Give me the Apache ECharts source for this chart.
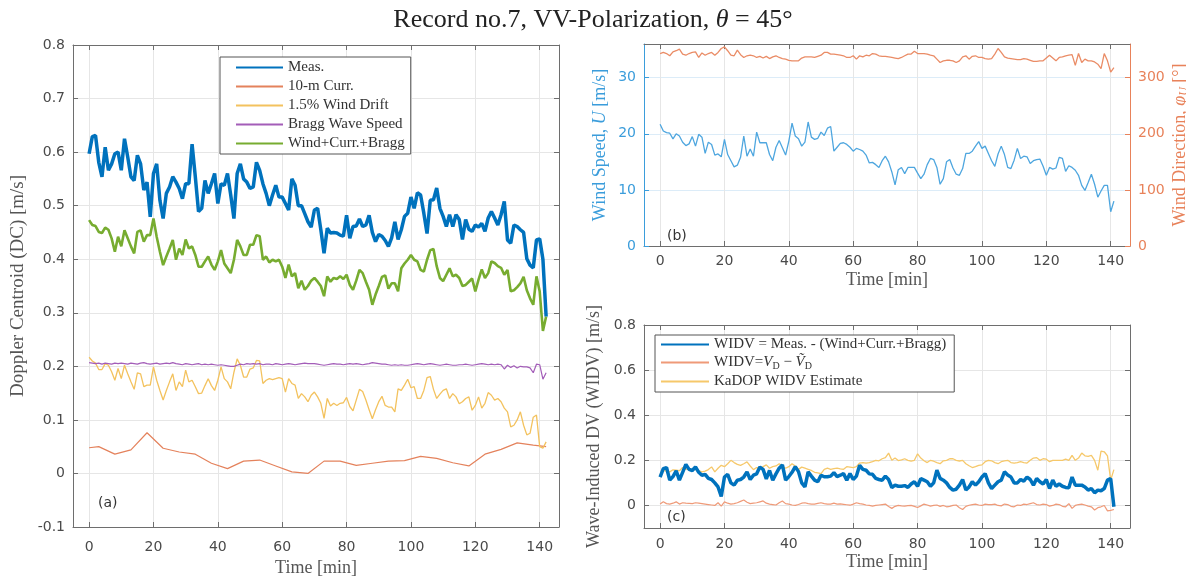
<!DOCTYPE html>
<html><head><meta charset="utf-8">
<script src="https://cdn.jsdelivr.net/npm/echarts@6/dist/echarts.min.js"></script>
<style>html,body{margin:0;padding:0;background:#fff}#c{width:1186px;height:576px}</style>
</head><body><div id="c"></div><script>
// ---------- DATA ----------
const timeMin = [0,1,2,3,4,5,6,7,8,9,10,11,12,13,14,15,16,17,18,19,20,21,22,23,24,25,26,27,28,29,30,31,32,33,34,35,36,37,38,39,40,41,42,43,44,45,46,47,48,49,50,51,52,53,54,55,56,57,58,59,60,61,62,63,64,65,66,67,68,69,70,71,72,73,74,75,76,77,78,79,80,81,82,83,84,85,86,87,88,89,90,91,92,93,94,95,96,97,98,99,100,101,102,103,104,105,106,107,108,109,110,111,112,113,114,115,116,117,118,119,120,121,122,123,124,125,126,127,128,129,130,131,132,133,134,135,136,137,138,139,140,141,142];
const xTickValues = [0,20,40,60,80,100,120,140];
const yTicksA = [-0.1,0,0.1,0.2,0.3,0.4,0.5,0.6,0.7,0.8];
const yTicksB = [0,10,20,30];
const yTicksB2 = [0,100,200,300];
const yTicksC = [0,0.2,0.4,0.6,0.8];

// (a) Doppler centroid components [m/s]
const measDC = [
0.597,0.629,0.631,0.581,0.554,0.609,0.566,0.578,0.597,0.600,
0.566,0.625,0.591,0.554,0.547,0.594,0.578,0.529,0.544,0.479,
0.560,0.578,0.510,0.476,0.523,0.535,0.554,0.544,0.532,0.513,
0.541,0.541,0.615,0.554,0.489,0.495,0.547,0.523,0.541,0.560,
0.504,0.541,0.538,0.560,0.520,0.476,0.560,0.578,0.550,0.544,
0.532,0.535,0.581,0.566,0.541,0.523,0.500,0.520,0.538,0.516,
0.516,0.504,0.492,0.550,0.538,0.500,0.500,0.485,0.470,0.460,
0.492,0.495,0.455,0.411,0.458,0.449,0.450,0.449,0.445,0.443,
0.482,0.439,0.461,0.462,0.475,0.461,0.464,0.482,0.450,0.433,
0.446,0.443,0.435,0.424,0.440,0.470,0.437,0.455,0.480,0.486,
0.516,0.495,0.524,0.520,0.486,0.448,0.510,0.511,0.533,0.495,
0.480,0.461,0.483,0.461,0.483,0.474,0.437,0.474,0.456,0.452,
0.464,0.460,0.467,0.452,0.477,0.489,0.477,0.464,0.483,0.508,
0.436,0.430,0.464,0.461,0.455,0.450,0.401,0.389,0.384,0.436,
0.438,0.400,0.293];
const windCurrBragg = [
0.473,0.464,0.462,0.451,0.449,0.459,0.455,0.439,0.414,0.442,
0.424,0.454,0.439,0.424,0.411,0.451,0.454,0.433,0.445,0.445,
0.476,0.442,0.414,0.389,0.405,0.420,0.436,0.399,0.420,0.408,
0.437,0.420,0.424,0.408,0.386,0.386,0.396,0.405,0.390,0.380,
0.396,0.417,0.392,0.383,0.374,0.399,0.436,0.424,0.408,0.408,
0.427,0.427,0.445,0.443,0.399,0.405,0.394,0.399,0.396,0.399,
0.386,0.365,0.390,0.368,0.374,0.346,0.360,0.343,0.350,0.360,
0.365,0.358,0.350,0.331,0.368,0.358,0.365,0.363,0.368,0.363,
0.371,0.352,0.343,0.360,0.380,0.374,0.358,0.343,0.315,0.334,
0.350,0.367,0.370,0.345,0.355,0.355,0.340,0.383,0.392,0.399,
0.408,0.399,0.396,0.380,0.377,0.399,0.417,0.419,0.387,0.365,
0.359,0.371,0.383,0.368,0.371,0.365,0.350,0.352,0.358,0.364,
0.340,0.362,0.381,0.365,0.374,0.396,0.393,0.387,0.384,0.371,
0.380,0.340,0.342,0.348,0.355,0.367,0.342,0.327,0.315,0.368,
0.340,0.266,0.293];
const windDrift = [
0.217,0.210,0.206,0.194,0.194,0.205,0.202,0.190,0.174,0.196,
0.177,0.202,0.186,0.171,0.157,0.188,0.186,0.162,0.165,0.165,
0.199,0.174,0.155,0.137,0.155,0.171,0.186,0.155,0.171,0.162,
0.193,0.171,0.174,0.162,0.149,0.150,0.164,0.177,0.164,0.155,
0.174,0.199,0.177,0.171,0.158,0.189,0.214,0.202,0.180,0.180,
0.195,0.197,0.211,0.210,0.168,0.174,0.177,0.175,0.177,0.179,
0.177,0.152,0.177,0.168,0.165,0.140,0.149,0.143,0.134,0.146,
0.152,0.143,0.131,0.103,0.140,0.126,0.131,0.127,0.131,0.132,
0.142,0.125,0.117,0.137,0.157,0.153,0.137,0.119,0.102,0.119,
0.134,0.144,0.127,0.124,0.124,0.115,0.158,0.155,0.165,0.176,
0.160,0.162,0.140,0.140,0.155,0.179,0.181,0.157,0.140,0.148,
0.155,0.158,0.140,0.149,0.143,0.130,0.134,0.140,0.143,0.118,
0.127,0.143,0.122,0.131,0.151,0.146,0.137,0.140,0.134,0.122,
0.115,0.087,0.090,0.100,0.115,0.090,0.072,0.075,0.105,0.109,
0.050,0.047,0.059];
const braggSpeed = [
0.207,0.206,0.205,0.206,0.204,0.206,0.205,0.204,0.206,0.205,
0.206,0.205,0.204,0.206,0.205,0.204,0.206,0.207,0.205,0.204,
0.205,0.206,0.204,0.205,0.206,0.205,0.207,0.205,0.204,0.203,
0.205,0.204,0.203,0.204,0.205,0.203,0.204,0.203,0.204,0.203,
0.202,0.203,0.202,0.201,0.200,0.200,0.202,0.204,0.203,0.205,
0.204,0.205,0.204,0.205,0.203,0.204,0.204,0.203,0.205,0.204,
0.203,0.204,0.205,0.204,0.203,0.204,0.205,0.206,0.205,0.205,
0.205,0.204,0.203,0.202,0.203,0.204,0.205,0.204,0.204,0.203,
0.204,0.205,0.204,0.205,0.204,0.203,0.204,0.205,0.207,0.206,
0.205,0.204,0.204,0.203,0.202,0.203,0.202,0.203,0.202,0.202,
0.203,0.204,0.205,0.204,0.203,0.204,0.205,0.204,0.203,0.202,
0.203,0.204,0.203,0.202,0.202,0.203,0.203,0.204,0.203,0.202,
0.203,0.204,0.205,0.204,0.203,0.204,0.203,0.204,0.203,0.195,
0.202,0.198,0.201,0.197,0.200,0.199,0.199,0.197,0.188,0.204,
0.203,0.176,0.188];
const currTime = [0,3,8,13,18,23,28,33,38,43,48,53,58,63,68,73,78,83,88,93,98,103,108,113,118,123,128,133,138,142];
const curr10m = [0.048,0.050,0.036,0.044,0.076,0.047,0.040,0.036,0.019,0.009,0.023,0.025,0.014,0.003,0.000,0.023,0.023,0.015,0.019,0.023,0.024,0.032,0.028,0.020,0.014,0.036,0.045,0.057,0.053,0.050];

// (b) wind speed [m/s] and direction [deg]
const windSpeed = [
21.7,20.5,20.2,20.1,19.1,20.0,19.6,18.5,17.9,18.2,
19.5,17.8,19.9,19.4,16.5,18.5,18.1,16.2,16.4,15.9,
19.0,16.3,15.2,14.1,14.4,15.8,19.6,16.0,17.3,16.0,
20.3,18.4,18.4,18.4,16.3,15.2,17.6,18.8,17.5,16.2,
18.7,21.9,19.6,19.1,17.8,18.5,22.1,19.4,19.0,19.2,
20.3,19.7,21.0,21.3,16.9,17.6,18.3,18.4,18.1,17.6,
16.9,17.4,17.2,16.9,16.2,14.8,14.9,14.5,14.0,15.2,
16.0,15.0,13.2,10.9,13.6,14.0,12.9,14.0,14.0,14.0,
13.0,12.0,12.8,14.5,15.6,15.4,14.0,11.0,12.0,15.0,
15.4,13.9,12.8,12.6,13.8,16.5,16.5,16.9,17.8,18.6,
17.4,17.8,16.5,15.2,14.2,16.4,17.8,16.3,14.0,13.8,
15.3,17.4,15.6,16.0,15.9,14.7,15.2,15.4,15.5,14.2,
12.6,14.0,13.7,13.9,15.8,15.6,13.3,14.3,14.0,13.5,
12.6,10.8,9.9,11.3,12.8,11.0,8.7,9.8,10.8,10.8,
6.1,8.0];
const windDir = [
343,345,343,339,346,348,351,342,340,343,
345,346,336,344,340,343,345,340,345,352,
355,348,340,339,349,341,336,339,340,339,
336,338,335,338,334,337,339,336,334,333,
331,330,330,330,335,337,337,337,336,338,
340,345,345,342,342,341,340,339,336,336,
339,333,339,337,340,339,343,342,339,338,
338,337,336,335,334,336,339,342,342,347,
343,343,343,342,340,339,333,327,330,331,
331,330,327,330,337,339,333,338,339,336,
336,334,333,334,342,352,345,337,335,334,
333,332,332,334,333,331,329,329,330,330,
335,340,335,330,336,337,339,340,341,322,
343,327,333,330,330,328,324,316,343,330,
310,318];

// (c) wave-induced Doppler velocity [m/s]
const widvMeas = [
0.126,0.163,0.168,0.112,0.128,0.153,0.112,0.147,0.182,0.160,
0.155,0.171,0.147,0.134,0.138,0.120,0.115,0.100,0.082,0.040,
0.126,0.138,0.100,0.090,0.112,0.115,0.126,0.149,0.115,0.134,
0.140,0.170,0.160,0.118,0.155,0.112,0.140,0.165,0.180,0.112,
0.128,0.147,0.172,0.150,0.100,0.082,0.149,0.130,0.112,0.105,
0.134,0.127,0.127,0.130,0.145,0.128,0.134,0.141,0.112,0.141,
0.115,0.130,0.178,0.160,0.156,0.140,0.138,0.120,0.115,0.112,
0.130,0.115,0.079,0.090,0.085,0.085,0.088,0.080,0.095,0.105,
0.085,0.119,0.112,0.105,0.085,0.100,0.156,0.120,0.112,0.100,
0.080,0.068,0.072,0.090,0.115,0.068,0.082,0.105,0.090,0.105,
0.126,0.141,0.100,0.075,0.090,0.105,0.112,0.149,0.135,0.126,
0.100,0.100,0.115,0.108,0.126,0.115,0.090,0.119,0.105,0.095,
0.115,0.075,0.112,0.085,0.095,0.085,0.080,0.078,0.126,0.090,
0.090,0.090,0.082,0.068,0.075,0.056,0.068,0.065,0.075,0.112,
0.119,-0.006];
const widvTilde = [
0.006,0.016,0.008,0.006,0.010,0.016,0.006,0.012,0.010,0.009,
0.008,0.012,0.010,0.008,0.006,0.004,0.002,0.000,0.012,-0.003,
0.016,0.010,0.006,0.008,0.012,0.018,0.024,0.014,0.008,0.010,
0.012,0.016,0.020,0.010,0.006,0.004,0.002,0.012,0.020,0.008,
0.006,0.002,0.000,0.004,0.010,0.012,0.008,0.006,0.006,0.009,
0.012,0.008,0.006,0.006,0.010,0.006,0.007,0.005,0.003,0.001,
0.006,0.012,0.008,0.006,0.002,0.000,-0.003,0.000,0.002,0.004,
0.006,-0.005,-0.013,-0.004,0.000,-0.002,-0.003,-0.001,0.000,-0.004,
-0.009,-0.002,0.006,0.002,-0.003,0.000,0.002,-0.004,0.000,-0.006,
-0.004,0.000,0.002,-0.010,-0.018,-0.004,0.001,0.004,0.006,0.002,
0.000,0.006,0.004,0.004,0.006,0.000,-0.002,0.006,0.004,-0.004,
-0.006,0.002,0.000,0.006,0.004,0.008,0.012,0.004,0.002,0.006,
0.004,-0.003,0.000,0.006,0.004,-0.004,-0.006,0.008,-0.013,0.000,
0.004,0.006,0.002,-0.003,-0.006,-0.020,-0.010,-0.006,0.000,-0.024,
-0.022,-0.018];
const kadopWidv = [
0.134,0.156,0.152,0.149,0.158,0.156,0.154,0.168,0.160,0.162,
0.159,0.159,0.155,0.149,0.152,0.159,0.171,0.149,0.165,0.178,
0.172,0.185,0.200,0.190,0.182,0.178,0.185,0.193,0.175,0.159,
0.168,0.165,0.172,0.180,0.165,0.172,0.175,0.185,0.174,0.165,
0.172,0.185,0.175,0.160,0.170,0.165,0.160,0.155,0.147,0.144,
0.141,0.160,0.165,0.160,0.163,0.165,0.162,0.160,0.172,0.170,
0.168,0.172,0.188,0.190,0.188,0.190,0.194,0.200,0.198,0.207,
0.212,0.232,0.200,0.210,0.199,0.202,0.207,0.200,0.196,0.200,
0.229,0.210,0.198,0.190,0.200,0.196,0.190,0.185,0.198,0.200,
0.207,0.207,0.200,0.197,0.200,0.185,0.176,0.168,0.172,0.178,
0.180,0.194,0.200,0.198,0.190,0.185,0.194,0.198,0.200,0.190,
0.188,0.190,0.194,0.190,0.188,0.200,0.210,0.212,0.200,0.207,
0.205,0.194,0.200,0.200,0.200,0.200,0.205,0.200,0.222,0.200,
0.210,0.232,0.220,0.218,0.222,0.200,0.156,0.241,0.238,0.220,
0.112,0.159];

const legendA = ['Meas.', '10-m Curr.', '1.5% Wind Drift', 'Bragg Wave Speed', 'Wind+Curr.+Bragg'];
const legendC = ['WIDV = Meas. - (Wind+Curr.+Bragg)', 'WIDV=V_D \u2212 V~_D', 'KaDOP WIDV Estimate'];

// ---------- CHART ----------
const SERIF = '"Liberation Serif", "DejaVu Serif", serif';
const SANS = '"DejaVu Sans", "Open Sans", sans-serif';
const AXC = '#6e6e6e';
const pair = (t, v) => v.map((y, i) => [t[i], y]);

function xAxisDef(gi, pos, nameGap, margin) {
  const bottom = pos === 'bottom';
  return {
    type: 'value', gridIndex: gi, position: pos, min: -5, max: 146,
    name: bottom ? 'Time [min]' : '', nameLocation: 'middle', nameGap: nameGap,
    nameTextStyle: {fontFamily: SERIF, fontSize: 18, color: '#555'},
    axisLine: {show: true, onZero: false, lineStyle: {color: AXC, width: 1}},
    axisTick: {show: true, inside: true, length: 5, customValues: xTickValues, lineStyle: {color: AXC}},
    axisLabel: {show: bottom, customValues: xTickValues, fontFamily: SANS, fontSize: 14, color: '#4a4a4a', margin: margin || 8},
    splitLine: {show: bottom, lineStyle: {color: '#e6e6e6', width: 1}}
  };
}
function yAxisDef(gi, pos, min, max, ticks, opts) {
  const o = opts || {};
  const col = o.color || AXC;
  return {
    type: 'value', gridIndex: gi, position: pos, min: min, max: max,
    name: o.name || '', nameLocation: 'middle', nameGap: o.nameGap || 40,
    nameTextStyle: {fontFamily: SERIF, fontSize: o.nameSize || 18, color: o.nameColor || '#555', rich: o.rich},
    axisLine: {show: true, onZero: false, lineStyle: {color: col, width: 1}},
    axisTick: {show: true, inside: true, length: 5, customValues: ticks, lineStyle: {color: col}},
    axisLabel: {show: !!o.labels, customValues: ticks, fontFamily: SANS, fontSize: 14, color: o.labelColor || '#4a4a4a', margin: 8},
    splitLine: {show: !!o.split, lineStyle: {color: o.splitColor || '#e6e6e6', width: 1}}
  };
}

const chart = echarts.init(document.getElementById('c'), null, {renderer: 'canvas'});
const option = {
  animation: false,
  backgroundColor: '#fff',
  title: {
    text: 'Record no.7, VV-Polarization, {i|\u03b8} = 45\u00b0', left: 'center', top: 2,
    textStyle: {fontFamily: SERIF, fontSize: 26, fontWeight: 'normal', color: '#222',
      rich: {i: {fontFamily: SERIF, fontStyle: 'italic', fontSize: 26, color: '#222'}}}
  },
  grid: [
    {left: 73, top: 45, width: 486, height: 482, outerBoundsMode: 'none', containLabel: false},
    {left: 644, top: 44, width: 486, height: 202, outerBoundsMode: 'none', containLabel: false},
    {left: 644, top: 325, width: 486, height: 203, outerBoundsMode: 'none', containLabel: false}
  ],
  xAxis: [
    xAxisDef(0, 'bottom', 29, 13), xAxisDef(0, 'top', 0),
    xAxisDef(1, 'bottom', 25, 8), xAxisDef(1, 'top', 0),
    xAxisDef(2, 'bottom', 25, 9), xAxisDef(2, 'top', 0)
  ],
  yAxis: [
    yAxisDef(0, 'left', -0.1, 0.8, yTicksA, {labels: true, split: true, name: 'Doppler Centroid (DC) [m/s]', nameGap: 45, nameSize: 19}),
    yAxisDef(0, 'right', -0.1, 0.8, yTicksA, {}),
    yAxisDef(1, 'left', 0, 36, yTicksB, {labels: true, split: true, color: '#3b9ddb', labelColor: '#3b9ddb',
      splitColor: '#dcecf8', name: 'Wind Speed, {i|U} [m/s]', nameColor: '#3b9ddb', nameGap: 35,
      rich: {i: {fontFamily: SERIF, fontStyle: 'italic', fontSize: 18, color: '#3b9ddb'}}}),
    yAxisDef(1, 'right', 0, 360, yTicksB2, {labels: true, color: '#e8825a', labelColor: '#e8825a',
      name: 'Wind Direction, {i|\u03c6}{s|U} [\u00b0]', nameColor: '#e8825a', nameGap: 40,
      rich: {i: {fontFamily: SERIF, fontStyle: 'italic', fontSize: 18, color: '#e8825a'},
             s: {fontFamily: SERIF, fontStyle: 'italic', fontSize: 12, color: '#e8825a', padding: [8, 0, 0, 0]}}}),
    yAxisDef(2, 'left', -0.1, 0.8, yTicksC, {labels: true, split: true, name: 'Wave-Induced DV (WIDV) [m/s]', nameGap: 41}),
    yAxisDef(2, 'right', -0.1, 0.8, yTicksC, {})
  ],
  legend: [
    {
      data: legendA, orient: 'vertical', left: 220, top: 57, itemWidth: 47, itemHeight: 14, itemGap: 4,
      padding: [3, 6, 3, 15], backgroundColor: '#fff', borderColor: '#555', borderWidth: 1, borderRadius: 0,
      selectedMode: false, itemStyle: {opacity: 0},
      textStyle: {fontFamily: SERIF, fontSize: 15, color: '#333', lineHeight: 14}
    },
    {
      data: legendC, orient: 'vertical', left: 655, top: 335, itemWidth: 48, itemHeight: 14, itemGap: 3,
      padding: [2, 8, 3, 5], backgroundColor: '#fff', borderColor: '#555', borderWidth: 1, borderRadius: 0,
      selectedMode: false, itemStyle: {opacity: 0},
      textStyle: {fontFamily: SERIF, fontSize: 15, color: '#333', lineHeight: 14,
        rich: {i: {fontFamily: SERIF, fontStyle: 'italic', fontSize: 15, color: '#333'},
               s: {fontFamily: SERIF, fontSize: 10, color: '#333', padding: [7, 0, 0, 0]}}},
      formatter: function (n) {
        if (n === legendC[1]) return 'WIDV={i|V}{s|D} \u2212 {i|V\u0303}{s|D}';
        return n;
      }
    }
  ],
  graphic: [
    {type: 'text', left: 98, top: 496, style: {text: '(a)', font: '14px "DejaVu Sans", sans-serif', fill: '#333'}},
    {type: 'text', left: 667, top: 229, style: {text: '(b)', font: '14px "DejaVu Sans", sans-serif', fill: '#333'}},
    {type: 'text', left: 667, top: 510, style: {text: '(c)', font: '14px "DejaVu Sans", sans-serif', fill: '#333'}}
  ],
  series: [
    {name: legendA[1], type: 'line', xAxisIndex: 0, yAxisIndex: 0, symbol: 'none', data: pair(currTime, curr10m),
      lineStyle: {color: '#e4825c', width: 1.2}, itemStyle: {color: '#e4825c'}},
    {name: legendA[2], type: 'line', xAxisIndex: 0, yAxisIndex: 0, symbol: 'none', data: pair(timeMin, windDrift),
      lineStyle: {color: '#f3c25e', width: 1.3}, itemStyle: {color: '#f3c25e'}},
    {name: legendA[3], type: 'line', xAxisIndex: 0, yAxisIndex: 0, symbol: 'none', data: pair(timeMin, braggSpeed),
      lineStyle: {color: '#a35db8', width: 1.2}, itemStyle: {color: '#a35db8'}},
    {name: legendA[4], type: 'line', xAxisIndex: 0, yAxisIndex: 0, symbol: 'none', data: pair(timeMin, windCurrBragg),
      lineStyle: {color: '#77ac30', width: 2.6}, itemStyle: {color: '#77ac30'}},
    {name: legendA[0], type: 'line', xAxisIndex: 0, yAxisIndex: 0, symbol: 'none', data: pair(timeMin, measDC),
      lineStyle: {color: '#0072bd', width: 3.5}, itemStyle: {color: '#0072bd'}},
    {name: 'Wind Speed', type: 'line', xAxisIndex: 2, yAxisIndex: 2, symbol: 'none', data: pair(timeMin, windSpeed),
      lineStyle: {color: '#4ea6df', width: 1.3}, itemStyle: {color: '#4ea6df'}},
    {name: 'Wind Direction', type: 'line', xAxisIndex: 2, yAxisIndex: 3, symbol: 'none', data: pair(timeMin, windDir),
      lineStyle: {color: '#ea8c66', width: 1.3}, itemStyle: {color: '#ea8c66'}},
    {name: legendC[1], type: 'line', xAxisIndex: 4, yAxisIndex: 4, symbol: 'none', data: pair(timeMin, widvTilde),
      lineStyle: {color: '#ef9a78', width: 1.2}, itemStyle: {color: '#ef9a78'}},
    {name: legendC[2], type: 'line', xAxisIndex: 4, yAxisIndex: 4, symbol: 'none', data: pair(timeMin, kadopWidv),
      lineStyle: {color: '#f6c86a', width: 1.3}, itemStyle: {color: '#f6c86a'}},
    {name: legendC[0], type: 'line', xAxisIndex: 4, yAxisIndex: 4, symbol: 'none', data: pair(timeMin, widvMeas),
      lineStyle: {color: '#0072bd', width: 3.5}, itemStyle: {color: '#0072bd'}}
  ]
};
chart.setOption(option);
</script></body></html>
